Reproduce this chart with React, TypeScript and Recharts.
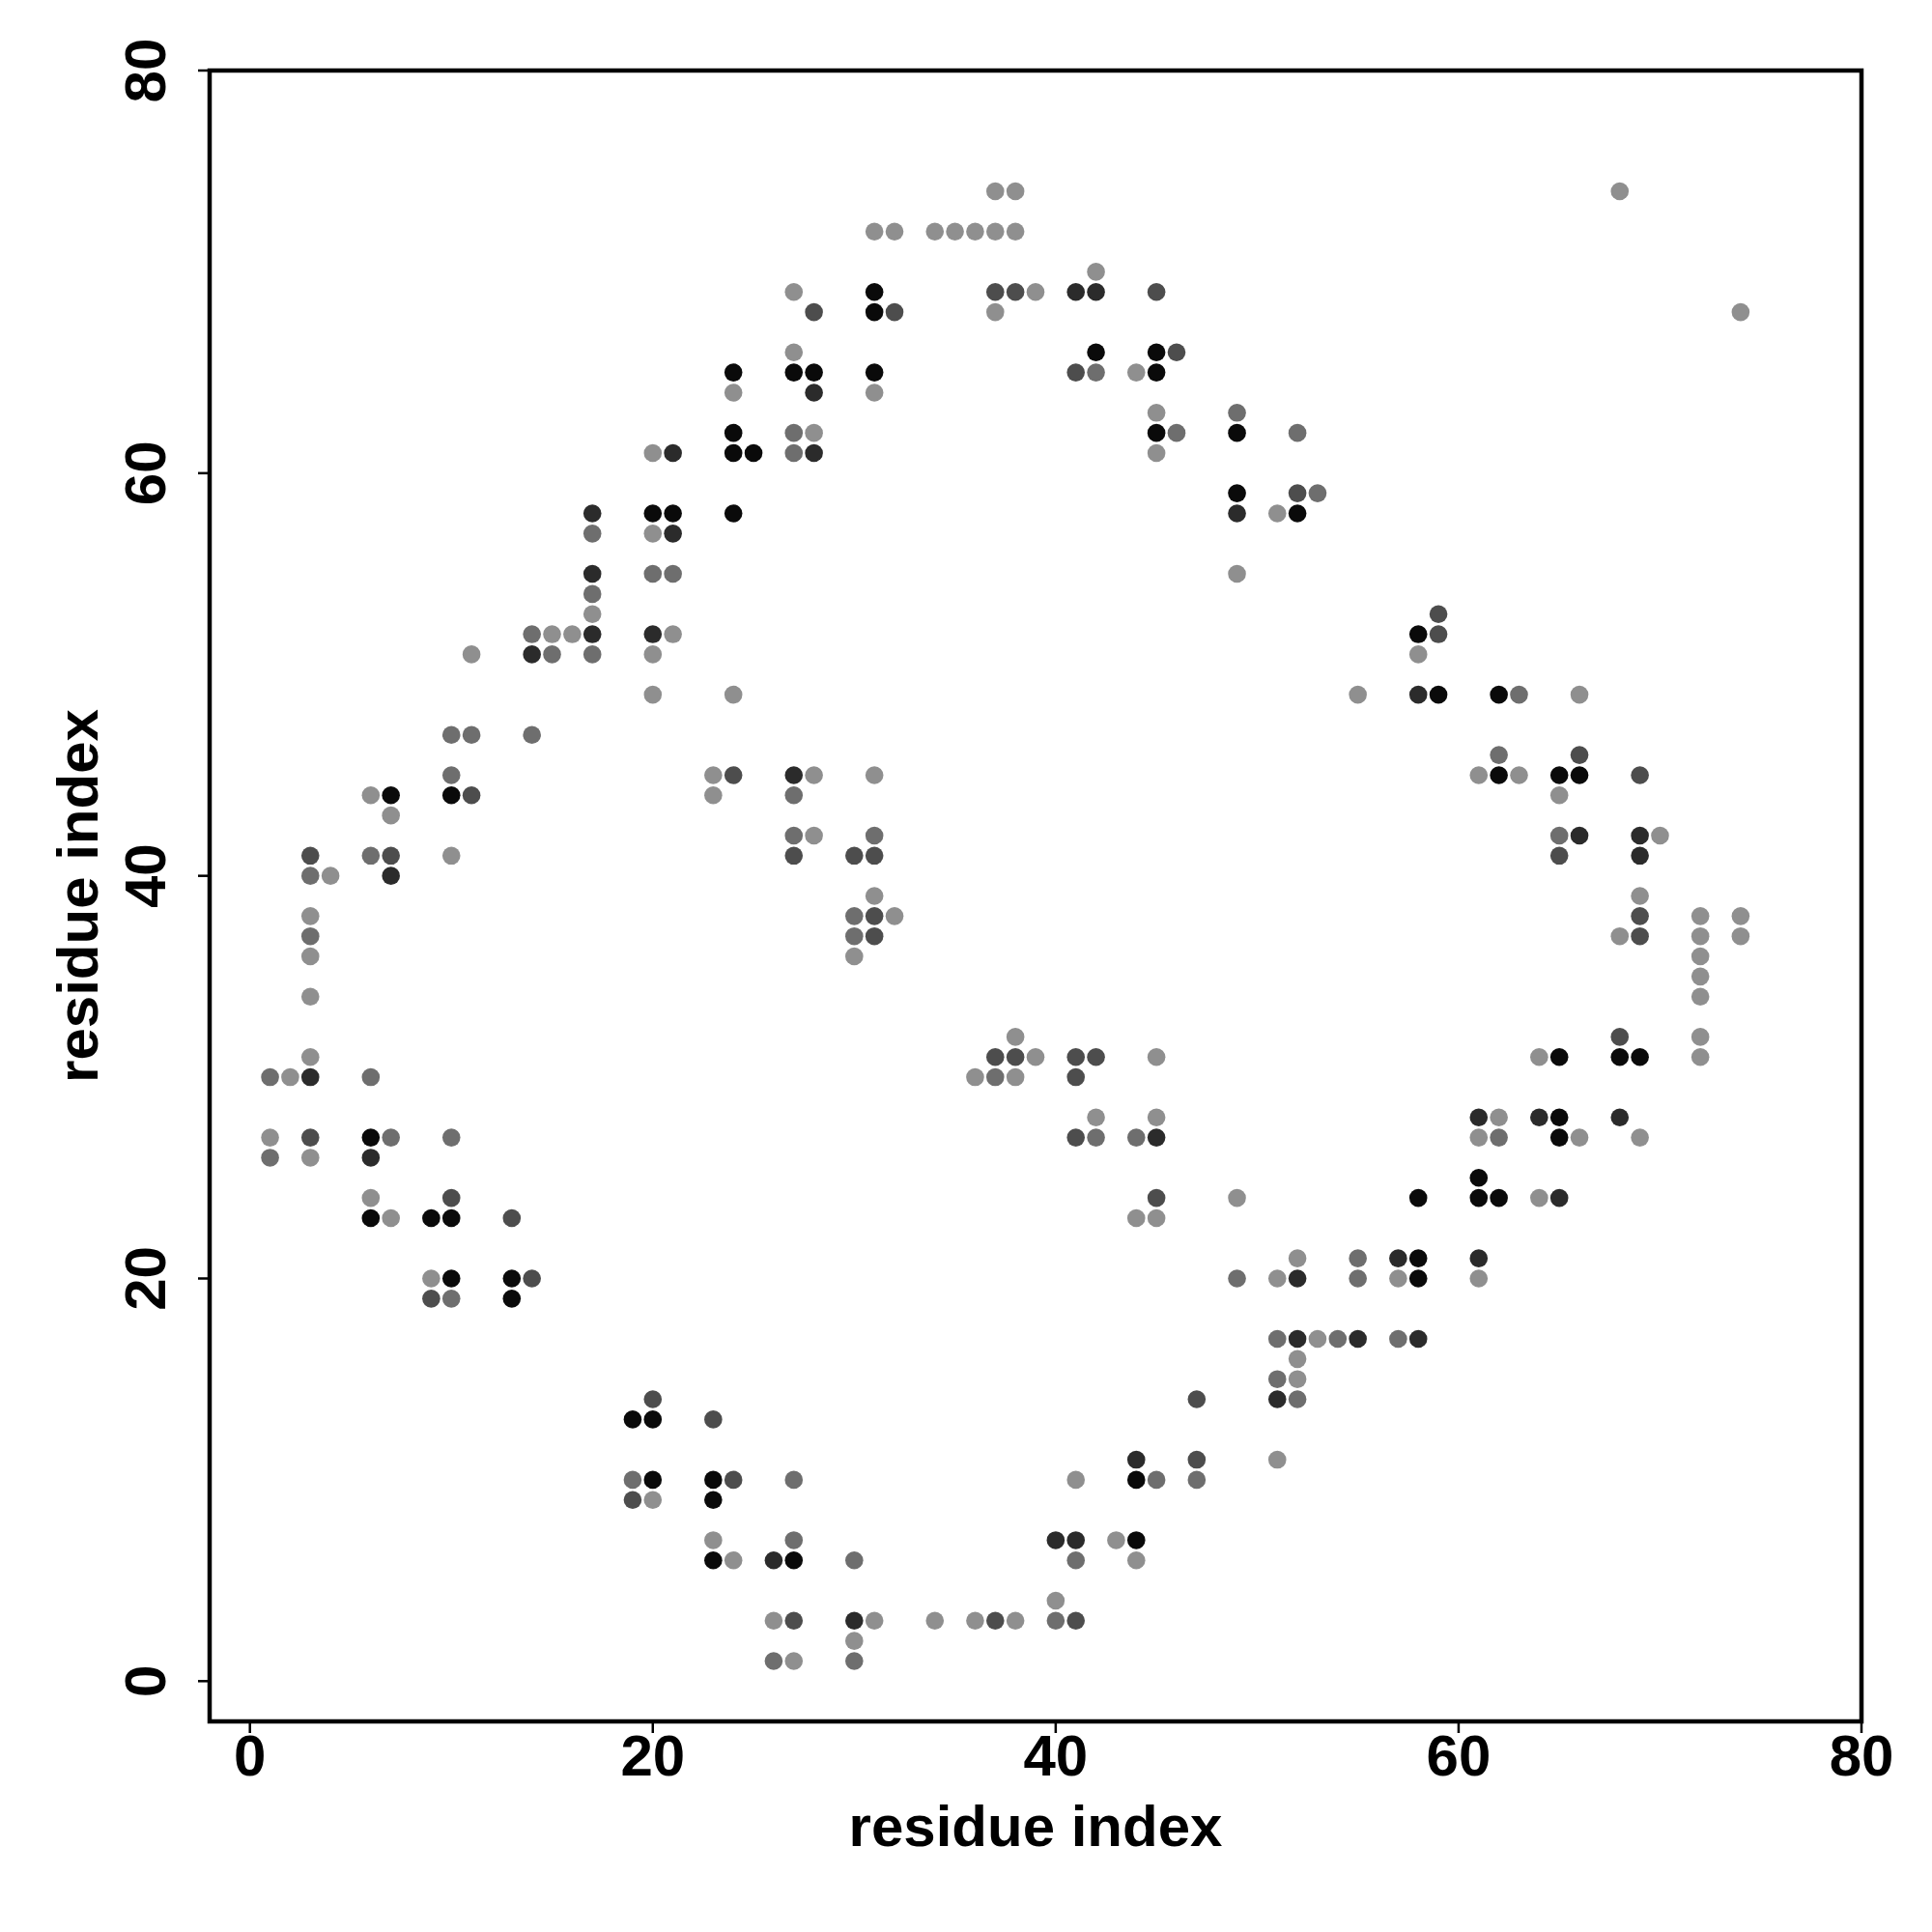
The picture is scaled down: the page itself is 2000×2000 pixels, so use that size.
import { ScatterChart, Scatter, XAxis, YAxis, ReferenceArea } from "recharts";

const axisTicks = [0, 20, 40, 60, 80];
const axisTitle = "residue index";

// contacts [residue i, residue j], grouped by how dark the dot is
const blackContacts: [number, number][] = [
    [24, 65], [24, 62], [24, 61], [25, 61], [20, 58], [21, 58], [24, 58],
    [31, 69], [31, 68], [42, 66], [45, 66], [27, 65], [28, 65], [31, 65], [45, 65],
    [45, 62], [49, 62], [49, 59], [52, 58],
    [58, 52], [59, 49], [62, 49],
    [62, 45], [65, 45], [66, 45], [65, 31], [68, 31], [69, 31], [65, 28], [65, 27],
    [61, 25], [58, 24], [61, 24], [62, 24],
    [7, 44], [10, 44], [6, 27], [6, 23], [9, 23], [10, 23],
    [10, 20], [13, 20], [13, 19], [19, 13], [20, 13], [20, 10], [23, 10], [23, 9], [23, 6],
    [44, 10], [44, 7], [27, 6],
    [58, 21], [58, 20],
];

const darkContacts: [number, number][] = [
    [21, 61], [17, 58], [21, 57], [17, 55], [17, 52], [20, 52], [14, 51],
    [41, 69], [42, 69], [28, 64], [28, 61], [49, 58],
    [58, 49],
    [66, 42], [69, 42], [69, 41], [61, 28], [64, 28], [68, 28], [65, 24],
    [7, 40], [3, 30], [6, 26],
    [26, 6],
    [52, 20], [52, 17], [51, 14], [44, 11], [40, 7], [41, 7], [30, 3],
    [57, 21], [61, 21], [55, 17], [58, 17],
    [27, 45], [45, 27],
];

const midDarkContacts: [number, number][] = [
    [37, 69], [38, 69], [45, 69], [28, 68], [32, 68], [46, 66], [41, 65], [52, 59],
    [59, 53], [59, 52],
    [66, 46], [69, 45], [65, 41], [69, 38], [69, 37], [68, 32],
    [24, 45], [11, 44], [3, 41], [7, 41], [3, 27], [10, 24], [13, 23],
    [14, 20], [9, 19], [20, 14], [23, 13], [24, 10], [19, 9],
    [47, 14], [47, 11], [27, 3], [37, 3], [41, 3],
    [27, 41], [30, 41], [31, 41], [31, 38], [31, 37], [37, 31], [38, 31], [41, 31],
    [42, 31], [41, 30], [41, 27], [45, 24],
];

const midContacts: [number, number][] = [
    [17, 57], [20, 55], [21, 55], [17, 54], [14, 52], [15, 51], [17, 51],
    [42, 65], [49, 63], [27, 62], [46, 62], [52, 62], [27, 61], [53, 59],
    [63, 49],
    [62, 46], [65, 42], [62, 27],
    [10, 47], [11, 47], [14, 47], [10, 45], [6, 41], [3, 40], [3, 37], [1, 30], [6, 30],
    [7, 27], [10, 27], [1, 26],
    [10, 19], [19, 10], [26, 1],
    [49, 20], [51, 17], [51, 15], [52, 14], [27, 10], [45, 10], [47, 10], [27, 7],
    [30, 6], [41, 6], [40, 3], [30, 1],
    [55, 21], [55, 20], [54, 17], [57, 17],
    [27, 44], [27, 42], [31, 42], [30, 38], [30, 37], [37, 30], [42, 27], [44, 27],
];

const lightContacts: [number, number][] = [
    [24, 64], [20, 61], [20, 57], [17, 53], [15, 52], [16, 52], [21, 52], [11, 51],
    [20, 51], [20, 49], [24, 49],
    [37, 74], [38, 74], [31, 72], [32, 72], [34, 72], [35, 72], [36, 72], [37, 72], [38, 72],
    [42, 70], [27, 69], [39, 69], [37, 68], [27, 66], [44, 65], [31, 64], [45, 63],
    [28, 62], [45, 61], [51, 58], [49, 55],
    [68, 74], [74, 68], [58, 51], [55, 49], [66, 49],
    [61, 45], [63, 45], [65, 44], [70, 42], [69, 39], [72, 38], [74, 38], [68, 37],
    [72, 37], [74, 37], [72, 36], [72, 35], [72, 34], [72, 32], [64, 31], [72, 31],
    [62, 28], [61, 27], [66, 27], [69, 27], [64, 24],
    [23, 45], [6, 44], [23, 44], [7, 43], [10, 41], [4, 40], [3, 38], [3, 36], [3, 34],
    [3, 31], [2, 30], [1, 27], [3, 26], [6, 24], [7, 23],
    [9, 20], [20, 9], [23, 7], [24, 6], [26, 3],
    [52, 21], [51, 20], [53, 17], [52, 16], [52, 15], [51, 11], [41, 10], [43, 7], [44, 6],
    [40, 4], [31, 3], [34, 3], [36, 3], [38, 3], [30, 2], [27, 1],
    [57, 20], [61, 20],
    [28, 45], [31, 45], [28, 42], [31, 39], [32, 38], [30, 36], [38, 32], [39, 31],
    [45, 31], [36, 30], [38, 30], [42, 28], [45, 28], [49, 24], [44, 23], [45, 23],
];

const FONT = "'Liberation Sans', Arial, Helvetica, sans-serif";

const shades = [
    { name: "light", color: "#8f8f8f", points: lightContacts },
    { name: "mid", color: "#6e6e6e", points: midContacts },
    { name: "midDark", color: "#4d4d4d", points: midDarkContacts },
    { name: "dark", color: "#2b2b2b", points: darkContacts },
    { name: "black", color: "#0a0a0a", points: blackContacts },
];

const XTick = ({ x, y, payload }: any) => (
    <text x={x} y={y + 44} textAnchor="middle" fontSize={60} fontWeight="bold" fontFamily={FONT} fill="#000">
        {payload.value}
    </text>
);

const YTick = ({ x, y, payload }: any) => {
    const bx = x - 34; // baseline sits this far left of the tick end
    return (
        <text x={bx} y={y} transform={`rotate(-90 ${bx} ${y})`} textAnchor="middle" fontSize={60} fontWeight="bold" fontFamily={FONT} fill="#000">
            {payload.value}
        </text>
    );
};

const XTitle = (props: any) => {
    const vb = props.viewBox;
    return (
        <text x={vb.x + vb.width / 2} y={vb.y + 129} textAnchor="middle" fontSize={60} fontWeight="bold" fontFamily={FONT} fill="#000">
            {axisTitle}
        </text>
    );
};

const YTitle = (props: any) => {
    const vb = props.viewBox;
    const bx = vb.x + 34;
    const cy = vb.y + vb.height / 2;
    return (
        <text x={bx} y={cy} transform={`rotate(-90 ${bx} ${cy})`} textAnchor="middle" fontSize={60} fontWeight="bold" fontFamily={FONT} fill="#000">
            {axisTitle}
        </text>
    );
};

const App = () => {
    return (
        <div style={{ position: "absolute", left: 0, top: 0, background: "#fff" }}>
            <ScatterChart width={2000} height={2000} margin={{ top: 73, right: 73, bottom: 58, left: 67 }}>
                <XAxis
                    type="number"
                    dataKey="x"
                    domain={[-2, 80]}
                    ticks={axisTicks}
                    allowDataOverflow
                    height={160}
                    axisLine={false}
                    tickLine={{ stroke: "#000", strokeWidth: 2.5 }}
                    tickSize={12}
                    tickMargin={0}
                    tick={<XTick />}
                    label={{ content: XTitle }}
                />
                <YAxis
                    type="number"
                    dataKey="y"
                    domain={[-2, 80]}
                    ticks={axisTicks}
                    allowDataOverflow
                    width={150}
                    axisLine={false}
                    tickLine={{ stroke: "#000", strokeWidth: 2.5 }}
                    tickSize={12}
                    tickMargin={0}
                    tick={<YTick />}
                    label={{ content: YTitle }}
                />
                {shades.map((s) => (
                    <Scatter
                        key={s.name}
                        name={s.name}
                        data={s.points.map(([x, y]) => ({ x, y }))}
                        fill={s.color}
                        isAnimationActive={false}
                        shape={(p: any) => <circle cx={p.cx} cy={p.cy} r={9.3} fill={s.color} />}
                    />
                ))}
                <ReferenceArea x1={-2} x2={80} y1={-2} y2={80} fill="none" fillOpacity={0} stroke="#000" strokeWidth={4.5} />
            </ScatterChart>
        </div>
    );
};

export default App;
